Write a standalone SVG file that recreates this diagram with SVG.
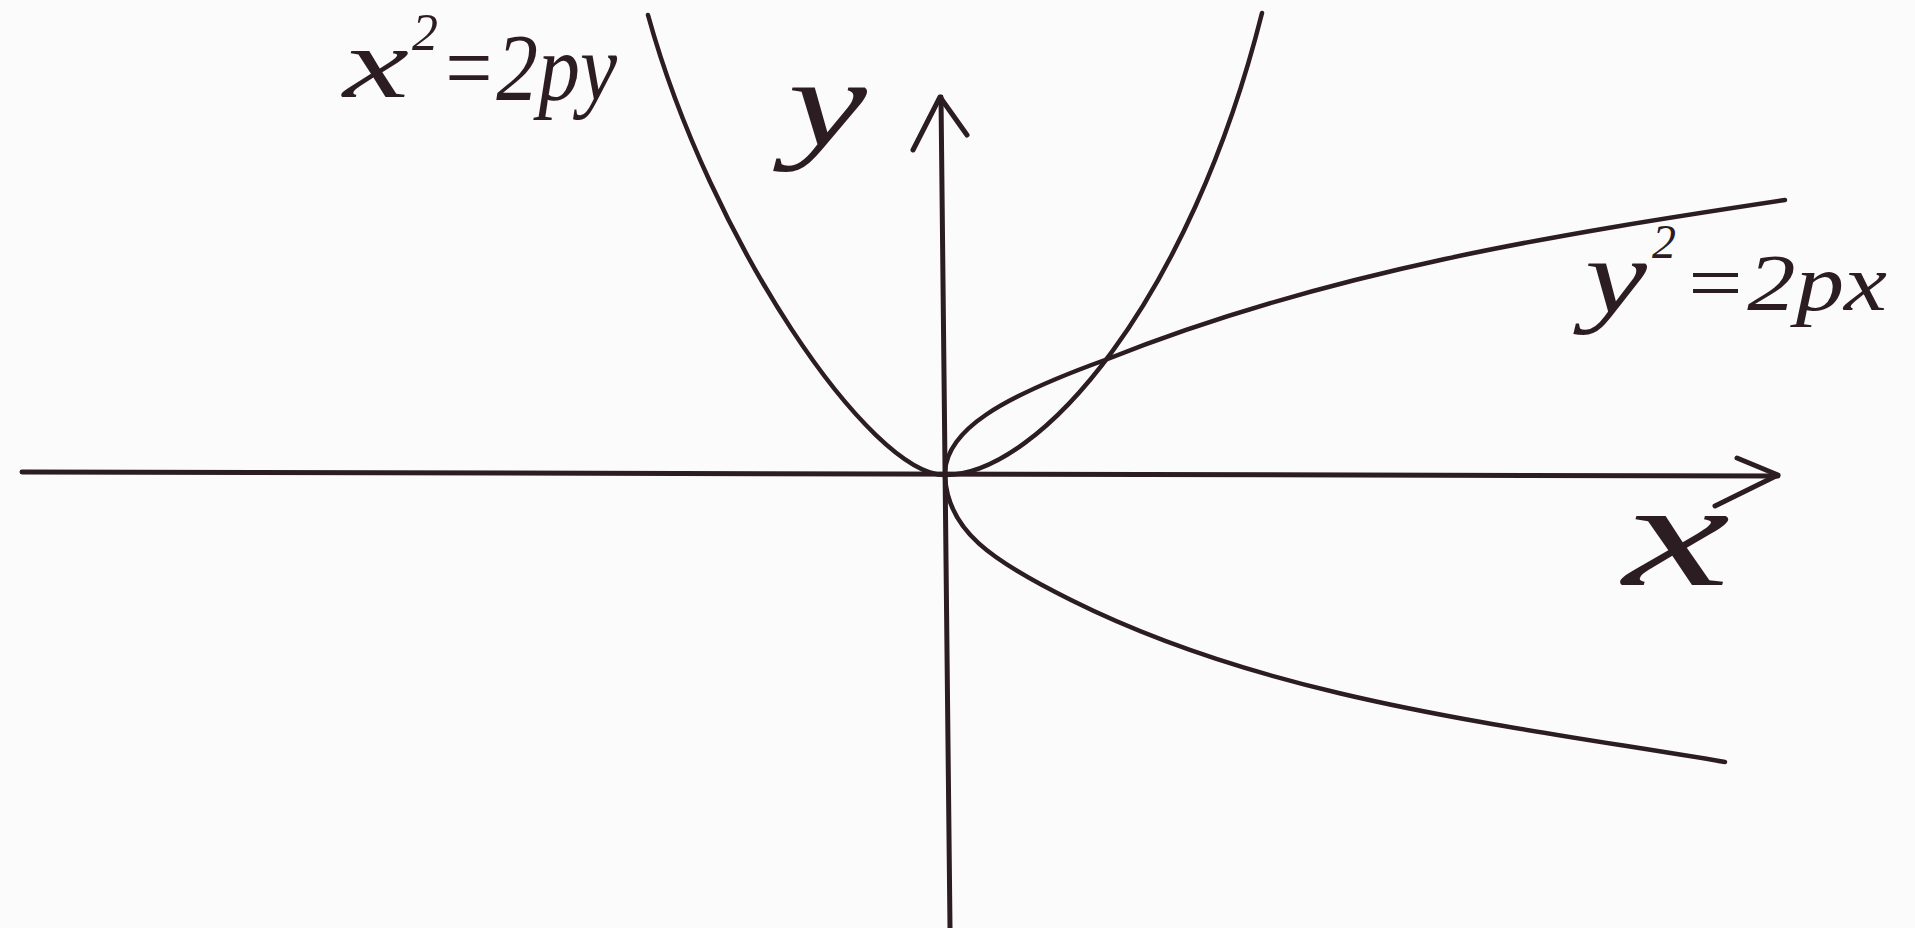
<svg xmlns="http://www.w3.org/2000/svg" width="1915" height="928" viewBox="0 0 1915 928">
<style>
.ax{fill:none;stroke:#2b1d21;stroke-width:5;stroke-linecap:round;stroke-linejoin:round}
.cv{fill:none;stroke:#2b1d21;stroke-width:4.5;stroke-linecap:round;stroke-linejoin:round}
.lb{font-family:"Liberation Serif","DejaVu Serif",serif;font-style:italic;fill:#2b1d21}
</style>
<rect width="1915" height="928" fill="#fcfbfb"/>
<g id="connectors">
<g id="x-axis">
<path class="ax" d="M22 472 L1778 476"/>
<path class="ax" d="M1737 458 L1778 475 L1715 506"/>
</g>
<g id="y-axis">
<path class="ax" d="M950 928 L941 97"/>
<path class="ax" d="M913 150 L940 97 L967 135"/>
</g>
</g>
<g id="parabola-x2-2py">
<path class="cv" d="M648 15 C710 240 870 475 945 475 C1040 475 1190 300 1262 13"/>
</g>
<g id="parabola-y2-2px">
<path class="cv" d="M945 472 C947 430 1000 398 1105 360 C1330 270 1560 234 1785 200"/>
<path class="cv" d="M945 477 C948 530 990 560 1071 600 C1271 700 1505 725 1725 762"/>
</g>
<g id="label-x2-2py">
<text class="lb" font-size="95"><tspan x="343" y="97" font-size="100" textLength="66" lengthAdjust="spacingAndGlyphs">x</tspan><tspan x="412" y="50" font-size="52">2</tspan><tspan x="440" y="100" textLength="177" lengthAdjust="spacingAndGlyphs">=2py</tspan></text>
</g>
<g id="label-y">
<text class="lb" x="788" y="145" font-size="125" textLength="79" lengthAdjust="spacingAndGlyphs">y</text>
</g>
<g id="label-y2-2px">
<text class="lb" font-size="80"><tspan x="1585" y="312" font-size="105" textLength="62" lengthAdjust="spacingAndGlyphs">y</tspan><tspan x="1652" y="258" font-size="48">2</tspan><tspan x="1682" y="310" textLength="205" lengthAdjust="spacingAndGlyphs">=2px</tspan></text>
</g>
<g id="label-x">
<text class="lb" x="1623" y="585" font-size="150" textLength="107" lengthAdjust="spacingAndGlyphs">x</text>
</g>
</svg>
